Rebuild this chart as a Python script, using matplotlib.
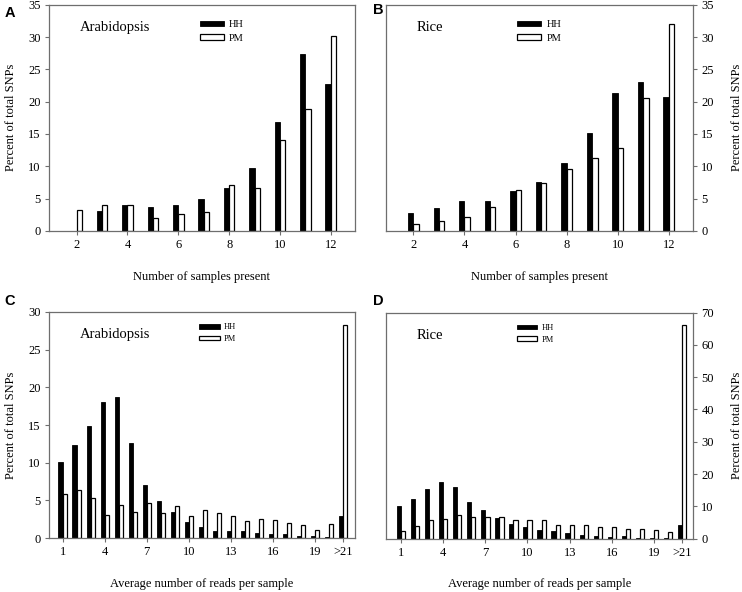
import numpy as np
import matplotlib
matplotlib.use("Agg")
import matplotlib.pyplot as plt

plt.rcParams['font.family'] = ['Liberation Serif', 'DejaVu Serif']

# panel A / B : number of samples present
samples = [2, 3, 4, 5, 6, 7, 8, 9, 10, 11, 12]
arab_hh_samples = [0, 3.1, 4.0, 3.7, 4.0, 4.9, 6.7, 9.7, 16.8, 27.3, 22.8]
arab_pm_samples = [3.2, 4.0, 4.0, 2.0, 2.6, 2.9, 7.1, 6.6, 14.0, 18.9, 30.2]
rice_hh_samples = [2.8, 3.6, 4.6, 4.6, 6.1, 7.6, 10.5, 15.1, 21.3, 23.1, 20.7]
rice_pm_samples = [1.0, 1.5, 2.2, 3.7, 6.3, 7.4, 9.6, 11.3, 12.8, 20.6, 32.0]

# panel C / D : average number of reads per sample (21 = ">21")
reads = list(range(1, 22))
read_ticks = [1, 4, 7, 10, 13, 16, 19, 21]
read_ticklabels = ['1', '4', '7', '10', '13', '16', '19', '>21']
arab_hh_reads = [10.1, 12.4, 14.9, 18.1, 18.7, 12.6, 7.0, 4.95, 3.5, 2.1, 1.5, 0.9,
                 1.0, 0.9, 0.7, 0.5, 0.6, 0.3, 0.25, 0.2, 3.0]
arab_pm_reads = [5.9, 6.4, 5.3, 3.1, 4.4, 3.45, 4.65, 3.35, 4.2, 3.0, 3.75, 3.35,
                 2.95, 2.3, 2.55, 2.45, 1.95, 1.8, 1.05, 1.85, 28.3]
rice_hh_reads = [10.1, 12.4, 15.4, 17.7, 16.0, 11.3, 9.0, 6.4, 4.7, 3.6, 2.8, 2.3,
                 1.75, 1.0, 0.8, 0.6, 0.9, 0.35, 0.2, 0.3, 4.3]
rice_pm_reads = [2.5, 3.9, 5.7, 6.0, 7.3, 6.7, 6.7, 6.7, 5.7, 5.7, 5.7, 4.1,
                 4.3, 4.3, 3.6, 3.5, 2.9, 2.9, 2.7, 2.2, 66.1]

SPINE = '#6e6e6e'


def draw_panel(ax, x, hh, pm, width, name, ymax, ystep, xlim, right=False, small_legend=False):
    x = np.array(x, dtype=float)
    ax.bar(x - width / 2, hh, width, color='black', edgecolor='black', linewidth=0.6, label='HH')
    ax.bar(x + width / 2, pm, width, color='white', edgecolor='black', linewidth=0.9, label='PM')
    ax.set_xlim(*xlim)
    ax.set_ylim(0, ymax)
    ax.set_yticks(np.arange(0, ymax + 0.1, ystep))
    for s in ax.spines.values():
        s.set_color(SPINE)
        s.set_linewidth(0.9)
    ax.tick_params(direction='out', length=3, width=0.8, color=SPINE, labelsize=9, pad=3)
    if right:
        ax.yaxis.tick_right()
        ax.yaxis.set_label_position('right')
        ax.set_ylabel('Percent of total SNPs', fontsize=9, labelpad=12)
    else:
        ax.set_ylabel('Percent of total SNPs', fontsize=9, labelpad=8)
    ax.text(0.10, 0.9, name, transform=ax.transAxes, fontsize=10.5, va='center', ha='left')
    lx = 0.48 if not right else 0.415
    ly = 0.965 if small_legend else 0.95
    ax.legend(loc='upper left', bbox_to_anchor=(lx, ly), frameon=False,
              fontsize=6 if small_legend else 7.5,
              handlelength=2.5 if small_legend else 2.3, handleheight=0.45,
              handletextpad=0.5, labelspacing=0.45, borderaxespad=0)


fig = plt.figure(figsize=(7.42, 5.92), dpi=100)
axA = fig.add_axes([0.066, 0.610, 0.412, 0.382])
axB = fig.add_axes([0.520, 0.610, 0.414, 0.382])
axC = fig.add_axes([0.066, 0.091, 0.412, 0.382])
axD = fig.add_axes([0.520, 0.090, 0.414, 0.382])

draw_panel(axA, samples, arab_hh_samples, arab_pm_samples, 0.21, 'Arabidopsis', 35, 5, (0.91, 12.94))
draw_panel(axB, samples, rice_hh_samples, rice_pm_samples, 0.21, 'Rice', 35, 5, (0.92, 12.95), right=True)
draw_panel(axC, reads, arab_hh_reads, arab_pm_reads, 0.3, 'Arabidopsis', 30, 5, (0.02, 21.85), small_legend=True)
draw_panel(axD, reads, rice_hh_reads, rice_pm_reads, 0.3, 'Rice', 70, 10, (-0.07, 21.77), right=True, small_legend=True)

for ax in (axA, axB):
    ax.set_xticks([2, 4, 6, 8, 10, 12])
    ax.set_xlabel('Number of samples present', fontsize=9, labelpad=14)
for ax in (axC, axD):
    ax.set_xticks(read_ticks)
    ax.set_xticklabels(read_ticklabels)
    ax.set_xlabel('Average number of reads per sample', fontsize=9, labelpad=14)

for lbl, (px, py) in zip('ABCD', [(0.006, 0.99), (0.503, 0.995), (0.006, 0.503), (0.503, 0.503)]):
    fig.text(px, py, lbl, fontsize=10.5, fontweight='bold', family='Liberation Sans', va='top', ha='left')

fig.savefig('out.png', dpi=100)
